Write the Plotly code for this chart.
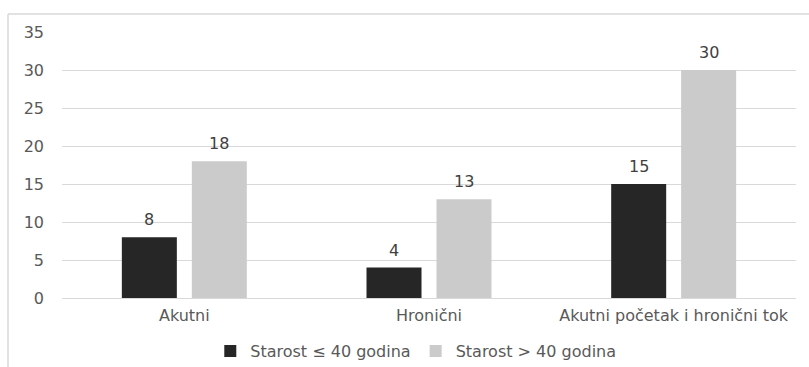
import plotly.graph_objects as go

categories = ["Akutni", "Hronični", "Akutni početak i hronični tok"]
young = [8, 4, 15]
older = [18, 13, 30]
series_names = ["Starost ≤ 40 godina", "Starost > 40 godina"]
y_ticks = [0, 5, 10, 15, 20, 25, 30, 35]

FONT = "DejaVu Sans"
TXT = "#595959"
SIZE = 16

W, H = 809, 367
ml, mr, mt, mb = 62, 13, 32, 69
pw, ph = W - ml - mr, H - mt - mb

BARGAP, GROUPGAP = 0.428, 0.214
band = pw / len(categories)
slot = band * (1 - BARGAP) / 2  # width of one series slot inside a group

fig = go.Figure()
colors = ["#262626", "#cbcbcb"]
for i, (name, vals) in enumerate(zip(series_names, [young, older])):
    fig.add_trace(go.Bar(
        x=categories, y=vals, name=name,
        marker=dict(color=colors[i], line=dict(width=0)),
    ))
    # value labels above each bar
    off = (i - 0.5) * slot
    for c, v in zip(categories, vals):
        fig.add_annotation(x=c, y=v, text=str(v), showarrow=False,
                           xshift=off, yshift=6, yanchor="bottom",
                           font=dict(family=FONT, size=SIZE, color="#404040"))

# outer frame (top and left edges only)
fx = (8 - ml) / pw
fy = (H - mb - 14) / ph
fig.add_shape(type="line", xref="paper", yref="paper", x0=fx, x1=1.2, y0=fy, y1=fy,
              line=dict(color="#d9d9d9", width=1.5))
fig.add_shape(type="line", xref="paper", yref="paper", x0=fx, x1=fx, y0=fy, y1=-0.5,
              line=dict(color="#d9d9d9", width=1.5))

fig.update_layout(
    width=W, height=H,
    margin=dict(l=ml, r=mr, t=mt, b=mb, autoexpand=False),
    paper_bgcolor="white", plot_bgcolor="white",
    barmode="group", bargap=BARGAP, bargroupgap=GROUPGAP,
    font=dict(family=FONT, size=SIZE, color=TXT),
    showlegend=True,
    legend=dict(orientation="h", x=0.482, xanchor="center", y=(H - mb - 351) / ph,
                yanchor="middle", font=dict(family=FONT, size=SIZE, color=TXT),
                itemwidth=30, traceorder="normal"),
    xaxis=dict(showline=True, linecolor="#d9d9d9", linewidth=1, ticks="",
               tickfont=dict(family=FONT, size=SIZE, color=TXT), ticklabelstandoff=3),
    yaxis=dict(range=[0, 35], tickvals=y_ticks, showgrid=True, gridcolor="#d9d9d9",
               gridwidth=1, zeroline=False, showline=False, ticks="",
               tickfont=dict(family=FONT, size=SIZE, color=TXT), ticklabelstandoff=17),
)

fig.write_html("out.html")
